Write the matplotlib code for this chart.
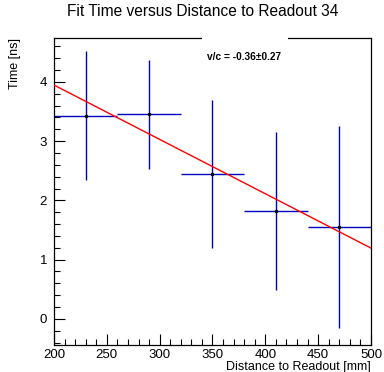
import numpy as np
import matplotlib
matplotlib.use('Agg')
import matplotlib.pyplot as plt
from matplotlib.ticker import MultipleLocator
from matplotlib.patches import Rectangle

# ROOT-like style: Helvetica clone, inward ticks on left/bottom only
plt.rcParams['font.family'] = ['Liberation Sans', 'DejaVu Sans']

# data
distance = [230, 290, 350, 410, 470]          # mm, bin centres
dist_err = [30, 30, 30, 30, 30]               # half bin width
fit_time = [3.43, 3.45, 2.44, 1.82, 1.55]     # ns
time_err = [1.09, 0.92, 1.25, 1.34, 1.70]

# linear fit  t = p0 + p1*d
fit_p0 = 5.78
fit_p1 = -0.00917
fit_range = [200, 500]
vc_label = 'v/c = -0.36\u00b10.27'

fig = plt.figure(figsize=(3.84, 3.72), dpi=100)
ax = fig.add_axes([0.1406, 0.0726, 0.8255, 0.8253])

ax.errorbar(distance, fit_time, xerr=dist_err, yerr=time_err, fmt='none',
            ecolor='#0000c0', elinewidth=1.0, capsize=0, zorder=2)
ax.plot(distance, fit_time, 'o', color='black', markersize=1.5, zorder=3)

xf = np.array(fit_range, dtype=float)
ax.plot(xf, fit_p0 + fit_p1 * xf, color='red', lw=1.0, zorder=4)

ax.set_xlim(200, 500)
ax.set_ylim(-0.44, 4.74)

ax.xaxis.set_major_locator(MultipleLocator(50))
ax.xaxis.set_minor_locator(MultipleLocator(10))
ax.yaxis.set_major_locator(MultipleLocator(1))
ax.yaxis.set_minor_locator(MultipleLocator(0.2))
ax.tick_params(which='both', direction='in', top=False, right=False,
               labelsize=9.5, width=0.8, colors='black')
ax.tick_params(which='major', length=8, pad=3)
ax.tick_params(which='minor', length=4)
ax.tick_params(axis='y', which='major', pad=5)
for s in ax.spines.values():
    s.set_linewidth(0.9)

ax.set_xlabel('Distance to Readout [mm]', fontsize=9, loc='right', labelpad=0)
ax.set_ylabel('Time [ns]', fontsize=9, loc='top', labelpad=13)

fig.suptitle('Fit Time versus Distance to Readout 34', fontsize=11.2,
             x=0.527, y=0.988)

# white stats box covering the top frame line
box = Rectangle((0.467, 0.88), 0.271, 0.14, transform=ax.transAxes,
                facecolor='white', edgecolor='none', clip_on=False, zorder=5)
ax.add_patch(box)
ax.text(0.6, 0.938, vc_label, transform=ax.transAxes, fontsize=7.3,
        fontweight='bold', ha='center', va='center', zorder=6)

fig.savefig('out.png', dpi=100)
